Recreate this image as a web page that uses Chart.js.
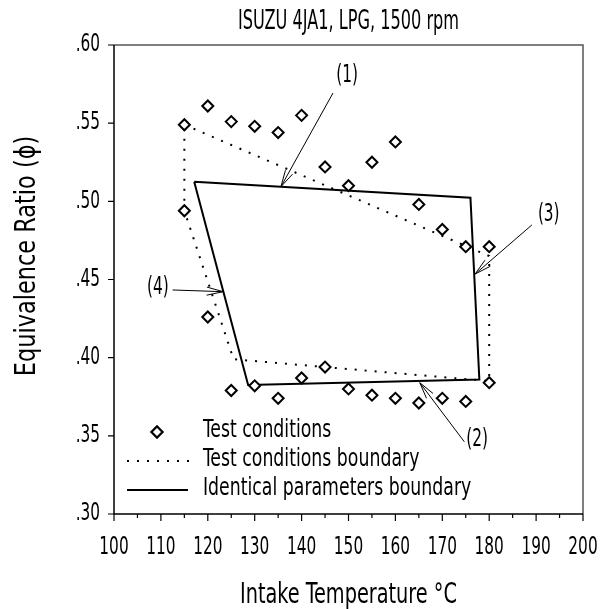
<!DOCTYPE html>
<html>
<head>
<meta charset="utf-8">
<script src="https://cdn.jsdelivr.net/npm/chart.js@4.4.1/dist/chart.umd.min.js"></script>
<style>
  html, body { margin: 0; padding: 0; background: #fff; }
  canvas { display: block; }
</style>
</head>
<body>
<canvas id="envelopeChart" width="606" height="609"></canvas>
<script>
// Axis ticks
const tempTicks = [100, 110, 120, 130, 140, 150, 160, 170, 180, 190, 200];
const phiTicks = [0.30, 0.35, 0.40, 0.45, 0.50, 0.55, 0.60];

// Test conditions (intake temperature in °C, equivalence ratio)
const testTemps = [115, 120, 125, 130, 135, 140, 145, 150, 155, 160, 165, 170, 175, 180,
                   115, 120, 125, 130, 135, 140, 145, 150, 155, 160, 165, 170, 175, 180];
const testPhi = [0.549, 0.561, 0.551, 0.548, 0.544, 0.555, 0.522, 0.510, 0.525, 0.538, 0.498, 0.482, 0.471, 0.471,
                 0.494, 0.426, 0.379, 0.382, 0.374, 0.387, 0.394, 0.380, 0.376, 0.374, 0.371, 0.374, 0.372, 0.384];

// Boundary of the test conditions
const testBoundaryTemps = [115, 180, 180, 125.5, 115, 115];
const testBoundaryPhi = [0.549, 0.465, 0.385, 0.399, 0.494, 0.549];

// Boundary of identical parameters
const paramBoundaryTemps = [117.1, 176.0, 177.9, 128.6, 117.1];
const paramBoundaryPhi = [0.5126, 0.5023, 0.3860, 0.3825, 0.5126];

// Numbered callouts: arrow tail -> arrow tip
const calloutLabels = ['(1)', '(2)', '(3)', '(4)'];
const calloutTailTemps = [146.7, 174.7, 189.1, 112.5];
const calloutTailPhi = [0.5693, 0.3462, 0.4849, 0.4433];
const calloutTipTemps = [135.6, 165.2, 177.0, 123.3];
const calloutTipPhi = [0.5094, 0.3840, 0.4535, 0.4422];

const FONT = "'Liberation Sans Narrow', 'DejaVu Sans Condensed', 'Liberation Sans', sans-serif";
const SQUEEZE = 0.71;

const toPoints = (xs, ys) => xs.map((x, i) => ({ x: x, y: ys[i] }));

// narrow lettering: condensed face squeezed a bit more horizontally
function drawText(ctx, text, x, y, size, align, angle, squeeze) {
    ctx.save();
    ctx.translate(x, y);
    if (angle) ctx.rotate(angle);
    ctx.scale(squeeze || SQUEEZE, 1);
    ctx.font = size + 'px ' + FONT;
    ctx.fillStyle = '#000';
    ctx.textAlign = align || 'center';
    ctx.textBaseline = 'middle';
    ctx.fillText(text, 0, 0);
    ctx.restore();
}

function drawArrow(ctx, x0, y0, x1, y1) {
    const a = Math.atan2(y1 - y0, x1 - x0);
    const len = 17, spread = 0.24;
    ctx.beginPath();
    ctx.moveTo(x0, y0);
    ctx.lineTo(x1, y1);
    ctx.moveTo(x1 - len * Math.cos(a - spread), y1 - len * Math.sin(a - spread));
    ctx.lineTo(x1, y1);
    ctx.lineTo(x1 - len * Math.cos(a + spread), y1 - len * Math.sin(a + spread));
    ctx.stroke();
}

// Frame, tick marks, labels, callouts and legend
const decorations = {
    id: 'decorations',
    afterDatasetsDraw(chart, args, opts) {
        const ctx = chart.ctx;
        const x = chart.scales.x, y = chart.scales.y;
        const area = chart.chartArea;

        ctx.save();
        ctx.lineCap = 'butt';

        // plot frame
        ctx.lineWidth = 1.5;
        ctx.strokeStyle = '#555';
        ctx.beginPath();
        ctx.moveTo(area.left, area.top);
        ctx.lineTo(area.right, area.top);
        ctx.lineTo(area.right, area.bottom);
        ctx.stroke();
        ctx.strokeStyle = '#000';
        ctx.beginPath();
        ctx.moveTo(area.left, area.top);
        ctx.lineTo(area.left, area.bottom);
        ctx.lineTo(area.right, area.bottom);
        ctx.stroke();

        // x ticks: major every 10, minor every 5; y ticks every .05
        ctx.lineWidth = 1.2;
        ctx.beginPath();
        for (let t = x.min; t <= x.max; t += 5) {
            const px = x.getPixelForValue(t);
            ctx.moveTo(px, area.bottom);
            ctx.lineTo(px, area.bottom + (t % 10 === 0 ? 7 : 4));
        }
        phiTicks.forEach(v => {
            const py = y.getPixelForValue(v);
            ctx.moveTo(area.left, py);
            ctx.lineTo(area.left - 6, py);
        });
        ctx.stroke();

        tempTicks.forEach(t => drawText(ctx, String(t), x.getPixelForValue(t), area.bottom + 34, 24, 'center'));
        phiTicks.forEach(v => drawText(ctx, v.toFixed(2).replace(/^0/, ''), area.left - 14, y.getPixelForValue(v), 24, 'right'));

        // titles
        drawText(ctx, 'ISUZU 4JA1, LPG, 1500 rpm', (area.left + area.right) / 2, 22, 26, 'center', 0, 0.69);
        drawText(ctx, 'Intake Temperature \u00B0C', (area.left + area.right) / 2, 595, 29, 'center', 0, 0.74);
        drawText(ctx, 'Equivalence Ratio (\u03D5)', 27, 256, 29, 'center', -Math.PI / 2, 0.86);

        // callouts
        ctx.lineWidth = 1;
        calloutLabels.forEach((label, i) => {
            const x0 = x.getPixelForValue(calloutTailTemps[i]);
            const y0 = y.getPixelForValue(calloutTailPhi[i]);
            const x1 = x.getPixelForValue(calloutTipTemps[i]);
            const y1 = y.getPixelForValue(calloutTipPhi[i]);
            drawArrow(ctx, x0, y0, x1, y1);
            const o = opts.labelOffsets[i];
            drawText(ctx, label, x0 + o[0], y0 + o[1], 24, o[2]);
        });

        // legend
        const lx = opts.legend.x, ly = opts.legend.y, gap = opts.legend.gap;
        ctx.lineWidth = 2;
        ctx.strokeStyle = '#000';
        ctx.fillStyle = '#fff';
        Chart.helpers.drawPoint(ctx, { pointStyle: 'rectRot', radius: 5.5, borderWidth: 2 }, lx + 30, ly);
        ctx.fill();
        ctx.stroke();
        ctx.setLineDash([2, 8]);
        ctx.beginPath();
        ctx.moveTo(lx, ly + gap);
        ctx.lineTo(lx + 62, ly + gap);
        ctx.stroke();
        ctx.setLineDash([]);
        ctx.beginPath();
        ctx.moveTo(lx, ly + gap * 2);
        ctx.lineTo(lx + 61, ly + gap * 2);
        ctx.stroke();
        drawText(ctx, 'Test conditions', lx + 76, ly - 2, 25, 'left', 0, 0.77);
        drawText(ctx, 'Test conditions boundary', lx + 76, ly + gap - 2, 25, 'left', 0, 0.77);
        drawText(ctx, 'Identical parameters boundary', lx + 76, ly + gap * 2 - 2, 25, 'left', 0, 0.77);

        ctx.restore();
    }
};

document.addEventListener('DOMContentLoaded', () => {
    const ctx = document.getElementById('envelopeChart').getContext('2d');
    new Chart(ctx, {
        type: 'scatter',
        data: {
            datasets: [{
                label: 'Test conditions',
                data: toPoints(testTemps, testPhi),
                pointStyle: 'rectRot',
                pointRadius: 5.5,
                pointBorderWidth: 2,
                borderColor: '#000',
                backgroundColor: '#fff'
            }, {
                label: 'Test conditions boundary',
                data: toPoints(testBoundaryTemps, testBoundaryPhi),
                showLine: true,
                pointRadius: 0,
                borderColor: '#000',
                borderWidth: 2,
                borderDash: [2, 8],
                borderCapStyle: 'butt'
            }, {
                label: 'Identical parameters boundary',
                data: toPoints(paramBoundaryTemps, paramBoundaryPhi),
                showLine: true,
                pointRadius: 0,
                borderColor: '#000',
                borderWidth: 2
            }]
        },
        options: {
            responsive: false,
            animation: false,
            devicePixelRatio: 1,
            layout: { padding: { top: 45, right: 23, left: 0, bottom: 0 } },
            scales: {
                x: {
                    type: 'linear', min: 100, max: 200,
                    ticks: { display: false, stepSize: 10 },
                    grid: { display: false },
                    border: { display: false },
                    afterFit: s => { s.height = 95; }
                },
                y: {
                    type: 'linear', min: 0.30, max: 0.60,
                    ticks: { display: false, stepSize: 0.05 },
                    grid: { display: false },
                    border: { display: false },
                    afterFit: s => { s.width = 114; }
                }
            },
            plugins: {
                legend: { display: false },
                tooltip: { enabled: false },
                decorations: {
                    labelOffsets: [[14, -17, 'center'], [2, -2, 'left'], [6, -10, 'left'], [-4, -2, 'right']],
                    legend: { x: 127, y: 432, gap: 29 }
                }
            }
        },
        plugins: [decorations]
    });
});
</script>
</body>
</html>
